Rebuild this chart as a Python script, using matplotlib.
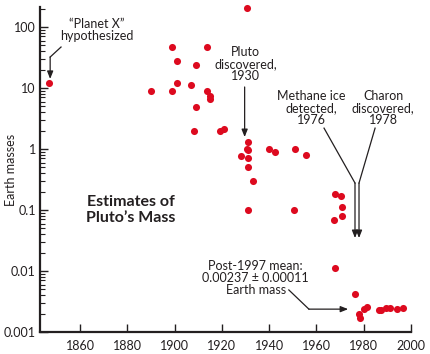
import matplotlib
matplotlib.use('Agg')
import matplotlib.pyplot as plt
from matplotlib.ticker import LogLocator, NullFormatter, FixedLocator

plt.rcParams['font.family'] = ['Lato', 'DejaVu Sans']

RED = '#dd0a1f'
INK = '#231f20'

years = [1847, 1890, 1899, 1899, 1901, 1901, 1907, 1909, 1909, 1908,
         1913.5, 1913.5, 1915, 1915, 1919, 1921,
         1930.5, 1931, 1930.5, 1931, 1928, 1931, 1931, 1933, 1931,
         1940, 1942.5, 1951, 1955.5, 1950.5,
         1968, 1970.5, 1971, 1971, 1967.5, 1968,
         1976.5, 1978, 1978.5, 1980, 1981.5,
         1986.5, 1987.5, 1989.5, 1991, 1994, 1996.5]
masses = [12, 9, 47, 9, 28, 12, 11, 24, 4.9, 2.0,
          47, 9, 7.4, 6.6, 2.0, 2.1,
          205, 1.3, 1.0, 0.95, 0.77, 0.71, 0.5, 0.30, 0.1,
          1.0, 0.9, 1.0, 0.8, 0.1,
          0.18, 0.17, 0.11, 0.08, 0.069, 0.0112,
          0.0042, 0.002, 0.0017, 0.0024, 0.0026,
          0.0023, 0.0023, 0.0025, 0.0025, 0.0024, 0.0025]

x_ticks = [1860, 1880, 1900, 1920, 1940, 1960, 1980, 2000]
y_ticks = [0.001, 0.01, 0.1, 1, 10, 100]
y_labels = ['0.001', '0.01', '0.1', '1', '10', '100']

fig = plt.figure(figsize=(4.3, 3.54), dpi=100)
ax = fig.add_axes([40 / 430, 22 / 354, 371 / 430, 325 / 354])

ax.scatter(years, masses, s=26, color=RED, linewidths=0, zorder=3, clip_on=False)

ax.set_yscale('log')
ax.set_xlim(1843, 2000)
ax.set_ylim(0.001, 213)
ax.xaxis.set_major_locator(FixedLocator(x_ticks))
ax.set_yticks(y_ticks)
ax.set_yticklabels(y_labels)
ax.yaxis.set_minor_locator(LogLocator(base=10, subs=range(2, 10)))
ax.yaxis.set_minor_formatter(NullFormatter())

for s in ['top', 'right']:
    ax.spines[s].set_visible(False)
for s in ['left', 'bottom']:
    ax.spines[s].set_linewidth(1.6)
    ax.spines[s].set_color(INK)
ax.tick_params(which='major', direction='in', length=6, width=1, colors=INK,
               labelsize=9, pad=3)
ax.tick_params(which='minor', direction='in', length=3.5, width=0.8, colors=INK)
ax.tick_params(axis='x', pad=6)

ax.set_ylabel('Earth masses', fontsize=9, color=INK)
ax.yaxis.set_label_coords(-0.062, 0.5)

ax.text(1881.5, 0.1, 'Estimates of\nPluto\u2019s Mass', fontsize=11.5,
        fontweight='bold', ha='center', va='center', linespacing=1.15,
        color=INK)

txt = dict(fontsize=9, ha='center', va='center', color=INK, linespacing=1.0)
line = dict(color=INK, lw=0.9, clip_on=False)
head = dict(arrowstyle='-|>,head_length=0.45,head_width=0.18', color=INK,
            lw=0.9, shrinkA=0, shrinkB=0)

# "Planet X"
ax.text(1867.2, 89, '\u201cPlanet X\u201d\nhypothesized', **txt)
ax.plot([1851.9, 1847.3], [47, 32.2], **line)
ax.annotate('', xy=(1847.3, 14.1), xytext=(1847.3, 32.2), arrowprops=head)

# Pluto discovered
ax.text(1930, 24.7, 'Pluto\ndiscovered,\n1930', **txt)
ax.annotate('', xy=(1929.6, 1.57), xytext=(1929.6, 10.4), arrowprops=head)

# Methane ice
ax.text(1957.7, 4.7, 'Methane ice\ndetected,\n1976', **txt)
ax.plot([1963.2, 1976.3], [2.2, 0.277], **line)
ax.annotate('', xy=(1976.3, 0.0347), xytext=(1976.3, 0.277), arrowprops=head)

# Charon
ax.text(1988.2, 4.7, 'Charon\ndiscovered,\n1978', **txt)
ax.plot([1984.8, 1978.0], [2.2, 0.277], **line)
ax.annotate('', xy=(1978.0, 0.0347), xytext=(1978.0, 0.277), arrowprops=head)

# Post-1997 mean
ax.text(1934.3, 0.0077, 'Post-1997 mean:\n0.00237 \u00b1 0.00011\nEarth mass', **txt)
ax.plot([1948.3, 1956.8], [0.00489, 0.00237], **line)
ax.annotate('', xy=(1973.4, 0.00237), xytext=(1956.8, 0.00237), arrowprops=head)

fig.savefig('out.png', dpi=100)
